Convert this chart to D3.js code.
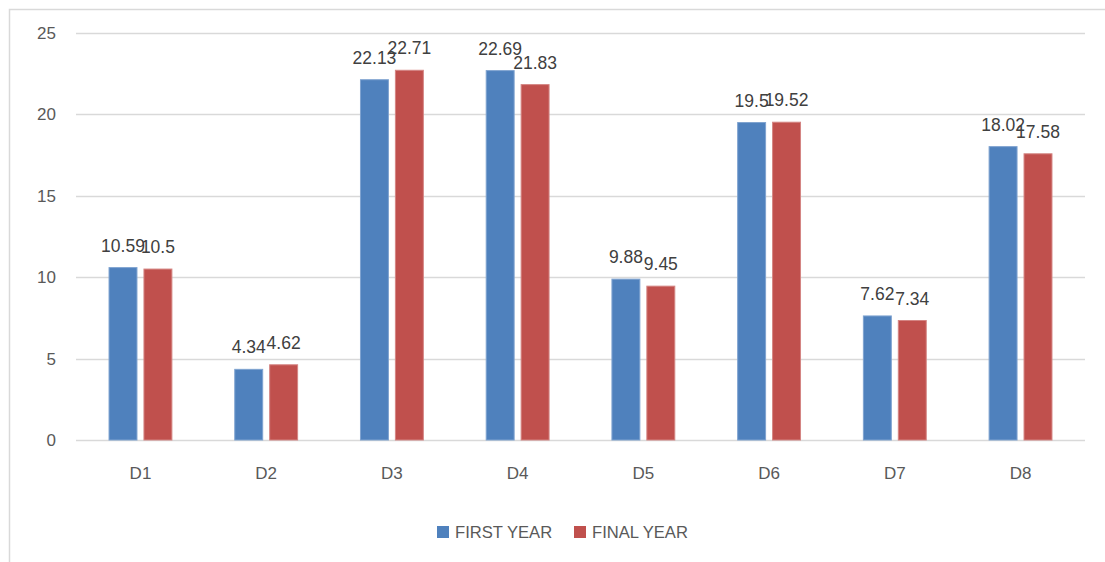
<!DOCTYPE html>
<html>
<head>
<meta charset="utf-8">
<script src="https://cdn.jsdelivr.net/npm/d3@7"></script>
<style>
  html, body { margin: 0; padding: 0; background: #fff; }
  svg { display: block; }
  text { font-family: "Liberation Sans", Arial, sans-serif; }
</style>
</head>
<body>
<svg id="chart" width="1105" height="562"></svg>
<script>
const categories = ["D1", "D2", "D3", "D4", "D5", "D6", "D7", "D8"];
const seriesNames = ["FIRST YEAR", "FINAL YEAR"];
const firstYear = [10.59, 4.34, 22.13, 22.69, 9.88, 19.5, 7.62, 18.02];
const finalYear = [10.5, 4.62, 22.71, 21.83, 9.45, 19.52, 7.34, 17.58];
const yTicks = [0, 5, 10, 15, 20, 25];
const colors = ["#4F81BD", "#C0504D"];
const strokes = ["#7FA3D0", "#D48583"];

const svg = d3.select("#chart");
const margin = { left: 76, right: 1085, top: 33, bottom: 440 };

// chart area border
svg.append("rect")
  .attr("x", 9.5).attr("y", 9.5)
  .attr("width", 1120).attr("height", 600)
  .attr("fill", "none").attr("stroke", "#d9d9d9").attr("stroke-width", 1.5);

const x = d3.scaleBand().domain(categories).range([77.6, 1083.4]);
const y = d3.scaleLinear().domain([0, 25]).range([margin.bottom, margin.top]);

// gridlines
svg.append("g").selectAll("line").data(yTicks).join("line")
  .attr("x1", margin.left).attr("x2", margin.right)
  .attr("y1", d => Math.round(y(d)) + 0.5).attr("y2", d => Math.round(y(d)) + 0.5)
  .attr("stroke", "#d9d9d9").attr("stroke-width", 1.5);

// y axis labels
const yAxis = d3.axisLeft(y).tickValues(yTicks).tickSize(0).tickPadding(20);
const yg = svg.append("g").attr("transform", `translate(${margin.left},0)`).call(yAxis);
yg.select(".domain").remove();
yg.selectAll("text").attr("fill", "#595959").style("font-size", "17px")
  .style("font-family", "'Liberation Sans', Arial, sans-serif");

// x axis labels
const xAxis = d3.axisBottom(x).tickSize(0).tickPadding(27);
const xg = svg.append("g").attr("transform", `translate(0,${margin.bottom})`).call(xAxis);
xg.select(".domain").remove();
xg.selectAll("text").attr("fill", "#595959").style("font-size", "17px")
  .style("font-family", "'Liberation Sans', Arial, sans-serif");

// grouped bars
const inner = d3.scaleBand().domain(seriesNames)
  .range([0, x.bandwidth() * 0.5]).paddingInner(0.2);
const groupOffset = x.bandwidth() * 0.25;

const rows = categories.map((c, i) => ({ cat: c, vals: [firstYear[i], finalYear[i]] }));

const groups = svg.append("g").selectAll("g").data(rows).join("g")
  .attr("transform", d => `translate(${x(d.cat) + groupOffset},0)`);

groups.selectAll("rect").data(d => d.vals.map((v, k) => ({ v, k }))).join("rect")
  .attr("x", d => inner(seriesNames[d.k]))
  .attr("width", inner.bandwidth())
  .attr("y", d => y(d.v))
  .attr("height", d => y(0) - y(d.v))
  .attr("fill", d => colors[d.k])
  .attr("stroke", d => strokes[d.k])
  .attr("stroke-width", 1);

groups.selectAll("text").data(d => d.vals.map((v, k) => ({ v, k }))).join("text")
  .attr("x", d => inner(seriesNames[d.k]) + inner.bandwidth() / 2)
  .attr("y", d => y(d.v) - 16)
  .attr("text-anchor", "middle")
  .attr("fill", "#404040")
  .style("font-size", "17.5px")
  .text(d => d.v);

// legend
const legend = svg.append("g");
const legendItems = [
  { name: seriesNames[0], color: colors[0], x: 437 },
  { name: seriesNames[1], color: colors[1], x: 574 }
];
legendItems.forEach(it => {
  legend.append("rect").attr("x", it.x).attr("y", 526).attr("width", 12).attr("height", 12)
    .attr("fill", it.color);
  legend.append("text").attr("x", it.x + 18).attr("y", 538)
    .attr("fill", "#595959").style("font-size", "16.6px").text(it.name);
});
</script>
</body>
</html>
